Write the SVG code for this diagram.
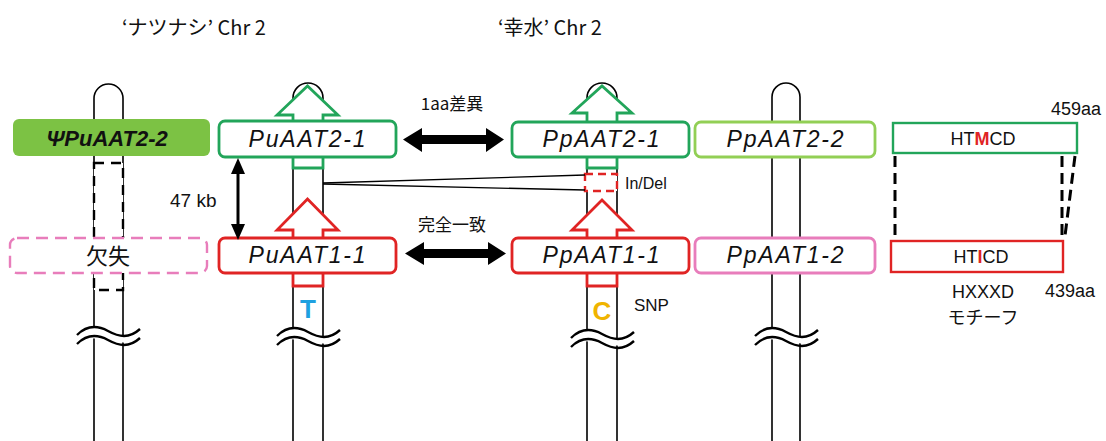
<svg xmlns="http://www.w3.org/2000/svg" width="1106" height="441" viewBox="0 0 1106 441">
<style>
.chr{fill:#fff;stroke:#000;stroke-width:1.6}
.wfill{fill:#fff;stroke:none}
.wline{fill:none;stroke:#000;stroke-width:2.4}
.gene{fill:#fff;stroke-width:2.8}
.gname{font-family:"Liberation Sans",Arial,sans-serif;font-style:italic;font-size:23px;letter-spacing:1.8px;fill:#111;text-anchor:middle}
.jp{font-family:"Noto Sans CJK JP","Liberation Sans",sans-serif;fill:#111}
.sans{font-family:"Liberation Sans",Arial,sans-serif;fill:#111}
.g{stroke:#22a55a}
.r{stroke:#e02424}
.lg{stroke:#92cf55}
.pk{stroke:#e87dbb}
.dash{fill:none;stroke:#000;stroke-width:3;stroke-dasharray:11 6}
</style>
<defs>
<g id="wv">
<path class="wfill" d="M0,10 C10,0 20,0 31,6 S52,14 63,4 L63,13 C52,23 42,15 31,15 S10,9 0,19 Z"/>
<path class="wline" d="M0,10 C10,0 20,0 31,6 S52,14 63,4"/>
<path class="wline" d="M0,19 C10,9 20,9 31,15 S52,23 63,13"/>
</g>
</defs>
<rect width="1106" height="441" fill="#fff"/>

<g id="titles">
<text class="jp" x="122" y="35" font-size="20">‘ナツナシ’ Chr 2</text>
<text class="jp" x="498" y="35" font-size="20">‘幸水’ Chr 2</text>
</g>

<g id="chr1">
<rect class="chr" x="94" y="84" width="29" height="372" rx="14.5"/>
<use href="#wv" x="77" y="325"/>
<rect x="94" y="163" width="29" height="127" fill="#fff" stroke="#000" stroke-width="2.4" stroke-dasharray="10 7"/>
</g>
<g id="chr2">
<rect class="chr" x="293" y="83" width="30" height="373" rx="15"/>
<use href="#wv" x="277" y="326"/>
</g>
<g id="chr3">
<rect class="chr" x="587" y="83" width="30" height="373" rx="15"/>
<use href="#wv" x="571" y="328"/>
</g>
<g id="chr4">
<rect class="chr" x="772" y="83" width="28" height="373" rx="14"/>
<use href="#wv" x="755" y="326"/>
</g>

<g id="PsiPuAAT2-2">
<rect x="13" y="119" width="197" height="37" rx="6" fill="#7cc244"/>
<text x="107" y="146" font-family="'Liberation Sans',Arial,sans-serif" font-weight="bold" font-style="italic" font-size="22" fill="#111" text-anchor="middle">ΨPuAAT2-2</text>
</g>
<g id="deletion">
<rect x="10" y="238" width="197" height="35" rx="7" fill="#fff" stroke="#e87dbb" stroke-width="2.4" stroke-dasharray="12 7"/>
<text class="jp" x="108" y="264" font-size="22" text-anchor="middle">欠失</text>
</g>

<g id="PuAAT2-1">
<polygon class="gene g" points="293,168 293,115 277,115 307.5,86 338,115 323,115 323,168" stroke-width="2"/>
<rect class="gene g" x="219" y="121" width="177" height="36" rx="6"/>
<text class="gname" x="308" y="147">PuAAT2-1</text>
</g>
<g id="PuAAT1-1">
<polygon class="gene r" points="293,286 293,230 277,230 307.5,199 338,230 323,230 323,286" stroke-width="2"/>
<rect class="gene r" x="219" y="238" width="177" height="35" rx="6"/>
<text class="gname" x="308" y="263">PuAAT1-1</text>
<text x="308" y="318" font-family="'Liberation Sans',Arial,sans-serif" font-weight="bold" font-size="26" fill="#1ea0e0" text-anchor="middle">T</text>
</g>

<g id="PpAAT2-1">
<polygon class="gene g" points="587,168 587,113 572,113 602,86 632,113 617,113 617,168" stroke-width="2"/>
<rect class="gene g" x="512" y="122" width="177" height="35" rx="6"/>
<text class="gname" x="602" y="147">PpAAT2-1</text>
</g>
<g id="indel">
<rect x="585" y="174" width="32" height="17" fill="#fff" stroke="#e02424" stroke-width="2.4" stroke-dasharray="8 5"/>
<text class="sans" x="625" y="189" font-size="16">In/Del</text>
</g>
<g id="PpAAT1-1">
<polygon class="gene r" points="587,286 587,230 572,230 602,200 632,230 617,230 617,286" stroke-width="2"/>
<rect class="gene r" x="512" y="238" width="177" height="35" rx="6"/>
<text class="gname" x="602" y="263">PpAAT1-1</text>
<text x="602" y="320" font-family="'Liberation Sans',Arial,sans-serif" font-weight="bold" font-size="26" fill="#f0b400" text-anchor="middle">C</text>
<text class="sans" x="634" y="311" font-size="17">SNP</text>
</g>

<g id="PpAAT2-2">
<rect class="gene lg" x="695" y="122" width="180" height="35" rx="6" stroke-width="2.4"/>
<text class="gname" x="786" y="147">PpAAT2-2</text>
</g>
<g id="PpAAT1-2">
<rect class="gene pk" x="695" y="238" width="180" height="35" rx="6" stroke-width="2.4"/>
<text class="gname" x="786" y="263">PpAAT1-2</text>
</g>

<g id="protein2">
<rect x="893" y="123" width="184" height="30" fill="#fff" stroke="#22a55a" stroke-width="2.4"/>
<text class="sans" x="983" y="145" font-size="18" text-anchor="middle">HT<tspan fill="#e02424" font-weight="bold">M</tspan>CD</text>
<text class="sans" x="1051" y="115" font-size="18">459aa</text>
</g>
<g id="protein1">
<rect x="891" y="241" width="172" height="31" fill="#fff" stroke="#e02424" stroke-width="2.4"/>
<text class="sans" x="981" y="263" font-size="18" text-anchor="middle">HT<tspan fill="#e02424" font-weight="bold">I</tspan>CD</text>
<text class="sans" x="1045" y="297" font-size="18">439aa</text>
<text class="sans" x="983" y="298" font-size="18" text-anchor="middle">HXXXD</text>
<text class="jp" x="983" y="324" font-size="18" text-anchor="middle">モチーフ</text>
</g>

<g id="connectors">
<polygon points="403,139.5 422,128 422,135 486,135 486,128 504,139.5 486,152 486,144 422,144 422,152" fill="#000"/>
<text class="jp" x="452" y="110" font-size="17" text-anchor="middle">1aa差異</text>
<polygon points="405,253.5 424,242 424,249 488,249 488,242 506,253.5 488,265 488,258 424,258 424,265" fill="#000"/>
<text class="jp" x="452" y="231" font-size="17" text-anchor="middle">完全一致</text>
<line x1="238" y1="172" x2="238" y2="226" stroke="#000" stroke-width="3"/>
<polygon points="238,158 231,174 245,174" fill="#000"/>
<polygon points="238,240 231,224 245,224" fill="#000"/>
<text class="sans" x="170" y="207" font-size="19">47 kb</text>
<line x1="323" y1="183" x2="585" y2="175" stroke="#000" stroke-width="1.3"/>
<line x1="323" y1="184" x2="585" y2="190" stroke="#000" stroke-width="1.3"/>
<line class="dash" x1="895" y1="156" x2="895" y2="236"/>
<line class="dash" x1="1062" y1="156" x2="1062" y2="236"/>
<line class="dash" x1="1075" y1="156" x2="1065" y2="236"/>
</g>
</svg>
